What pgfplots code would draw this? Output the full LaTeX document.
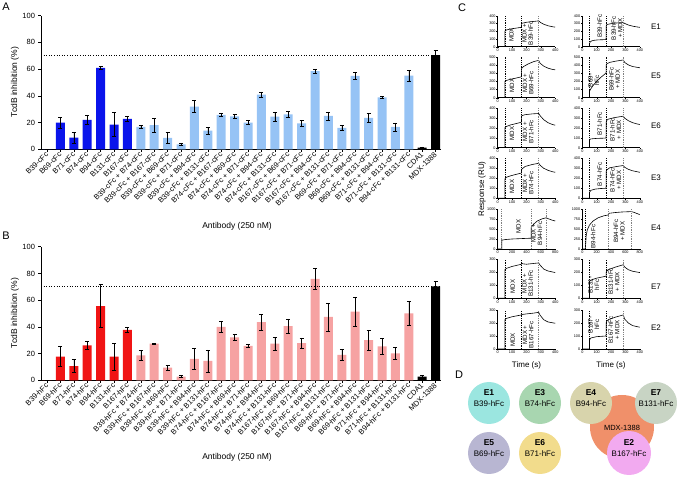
\documentclass[border=0pt]{standalone}
\usepackage{pgfplots}
\pgfplotsset{compat=1.18}
\usepackage{pgfplotstable}
\usepackage{fontspec}
\setmainfont{Liberation Sans}

\definecolor{dblue}{RGB}{10,20,235}
\definecolor{lblue}{RGB}{150,195,245}
\definecolor{dred}{RGB}{240,20,20}
\definecolor{lred}{RGB}{246,162,162}
\definecolor{cE1}{RGB}{155,230,224}
\definecolor{cE3}{RGB}{168,214,176}
\definecolor{cE4}{RGB}{216,212,172}
\definecolor{cE7}{RGB}{200,212,196}
\definecolor{cMDX}{RGB}{240,144,106}
\definecolor{cE2}{RGB}{242,170,240}
\definecolor{cE5}{RGB}{184,182,210}
\definecolor{cE6}{RGB}{242,220,140}

\pgfplotstableread{
x y e
1 0 0
2 20 4
3 8.7 4
4 22 3.5
5 61 1
6 18.5 9
7 22.7 2
}\Adark
\pgfplotstableread{
x y e
8 16.7 1
9 18 5
10 8.5 4
11 3.7 0.7
12 32 4.5
13 14 2.5
14 25.7 1
15 24.7 1.5
16 20 1.5
17 41 2
18 24.5 3.5
19 26.2 2
20 19.4 2
21 58.5 1.5
22 25 3
23 16 2
24 55 2.5
25 23.5 3.5
26 38.8 1
27 16.7 3
28 55.2 4
}\Alight
\pgfplotstableread{
x y e
29 1.3 0.5
30 70.5 3.5
}\Actrl
\pgfplotstableread{
x y e
1 0 0
2 17.7 7.5
3 10.7 5
4 26.2 3
5 55.6 16
6 17.7 10
7 37.7 2
}\Bdark
\pgfplotstableread{
x y e
8 18.7 3.7
9 27.4 0.5
10 9.5 1.7
11 2.7 0.7
12 16 8
13 14.5 8.3
14 40 4
15 32.2 2
16 25.7 1
17 43.6 6
18 27.4 5
19 40.6 5.3
20 27.8 4
21 76 8
22 47.5 10.5
23 19 4.2
24 51.4 11
25 30 7.5
26 25.4 6
27 20.2 4.3
28 50 9
}\Blight
\pgfplotstableread{
x y e
29 2.7 1
30 70.3 3.5
}\Bctrl

\pgfplotsset{
 barax/.style={scale only axis, width=400pt, height=133.6pt, xmin=0.55, xmax=30.4, ymin=0, ymax=100,
   axis x line*=bottom, axis y line*=left, tick align=outside, xtick={1,...,30}, ytick={0,20,...,100},
   major tick length=2.5pt, tick style={black, line width=0.5pt}, axis line style={line width=0.7pt},
   yticklabel style={font=\fontsize{7.5}{8}\selectfont},
   xticklabel style={font=\fontsize{7.5}{8}\selectfont, rotate=45, anchor=east, inner sep=1pt, yshift=-1pt},
   /pgf/number format/assume math mode=true, clip=false, anchor=south west},
 bars/.style={ybar, bar shift=0pt, bar width=9pt, draw=none, fill=#1,
   error bars/.cd, y dir=both, y explicit, error bar style={black, line width=0.6pt},
   error mark options={black, rotate=90, mark size=2pt, line width=0.6pt}},
 sg/.style={scale only axis, width=57.5pt, axis x line*=bottom, axis y line*=left, tick align=outside,
   major tick length=1.3pt, tick style={black,line width=0.35pt}, axis line style={line width=0.45pt},
   xmin=0, xmax=400, xtick={0,100,...,400}, ymin=0,
   ticklabel style={font=\fontsize{3.8}{4}\selectfont, inner sep=0.6pt},
   /pgf/number format/assume math mode=true, /pgf/number format/1000 sep={}, clip=false, anchor=south west},
 cv/.style={black, line width=0.6pt, sharp plot, no marks},
 dk/.style={black, line width=0.4pt, dash pattern=on 1.3pt off 1pt, no marks},
 gy/.style={gray, line width=0.5pt, dash pattern=on 1.3pt off 1pt, no marks},
}
\tikzset{lab/.style={font=\fontsize{6.2}{6.4}\selectfont, rotate=90, align=center, inner sep=0pt}}

\begin{document}
\begin{tikzpicture}
\path[use as bounding box] (0pt,0pt) rectangle (677pt,479pt);

% ---------------- Panel A
\begin{axis}[barax, at={(41pt,329.7pt)},
  xticklabels={B39-cFc, B69-cFc, B71-cFc, B74-cFc, B94-cFc, B131-cFc, B167-cFc,
  B39-cFc + B74-cFc, B39-cFc + B167-cFc, B39-cFc + B69-cFc, B39-cFc + B71-cFc, B39-cFc + B94-cFc,
  B39-cFc + B131-cFc, B74-cFc + B167-cFc, B74-cFc + B69-cFc, B74-cFc + B71-cFc, B74-cFc + B94-cFc,
  B74-cFc + B131-cFc, B167-cFc + B69-cFc, B167-cFc + B71-cFc, B167-cFc + B94-cFc, B167-cFc + B131-cFc,
  B69-cFc + B71-cFc, B69-cFc + B94-cFc, B69-cFc + B131-cFc, B71-cFc + B94-cFc, B71-cFc + B131-cFc,
  B94-cFc + B131-cFc, CDA1, MDX-1388}]
\addplot[bars=dblue] table[x=x,y=y,y error=e] {\Adark};
\addplot[bars=lblue] table[x=x,y=y,y error=e] {\Alight};
\addplot[bars=black] table[x=x,y=y,y error=e] {\Actrl};
\addplot[black, line width=0.8pt, dash pattern=on 0.8pt off 1.8pt] coordinates {(0.55,70) (30.4,70)};
\end{axis}

% ---------------- Panel B
\begin{axis}[barax, at={(41pt,98.7pt)},
  xticklabels={B39-hFc, B69-hFc, B71-hFc, B74-hFc, B94-hFc, B131-hFc, B167-hFc,
  B39-hFc + B74-hFc, B39-hFc + B167-hFc, B39-hFc + B69-hFc, B39-hFc + B71-hFc, B39-hFc + B94-hFc,
  B39-hFc + B131-hFc, B74-hFc + B167-hFc, B74-hFc + B69-hFc, B74-hFc + B71-hFc, B74-hFc + B94-hFc,
  B74-hFc + B131-hFc, B167-hFc + B69-hFc, B167-hFc + B71-hFc, B167-hFc + B94-hFc, B167-hFc + B131-hFc,
  B69-hFc + B71-hFc, B69-hFc + B94-hFc, B69-hFc + B131-hFc, B71-hFc + B94-hFc, B71-hFc + B131-hFc,
  B94-hFc + B131-hFc, CDA1, MDX-1388}]
\addplot[bars=dred] table[x=x,y=y,y error=e] {\Bdark};
\addplot[bars=lred] table[x=x,y=y,y error=e] {\Blight};
\addplot[bars=black] table[x=x,y=y,y error=e] {\Bctrl};
\addplot[black, line width=0.8pt, dash pattern=on 0.8pt off 1.8pt] coordinates {(0.55,70) (30.4,70)};
\end{axis}

% labels A/B
\node[font=\fontsize{11}{12}\selectfont] at (6pt,472pt) {A};
\node[font=\fontsize{11}{12}\selectfont] at (6pt,243pt) {B};
\node[rotate=90, font=\fontsize{8.5}{9}\selectfont] at (15pt,397pt) {TcdB inhibition (\%)};
\node[rotate=90, font=\fontsize{8.5}{9}\selectfont] at (15pt,166pt) {TcdB inhibition (\%)};
\node[font=\fontsize{8.5}{9}\selectfont] at (237pt,253pt) {Antibody (250 nM)};
\node[font=\fontsize{8.5}{9}\selectfont] at (237pt,22pt) {Antibody (250 nM)};

% ---------------- Panel C
% Row 1 E1
\begin{axis}[sg, at={(497.7pt,432.3pt)}, height=31pt, ymax=400, ytick={0,100,...,400}]
\addplot[cv] coordinates {(0,0)(50,0)(50,200)(60,215)(80,225)(110,235)(140,243)(165,250)(167,300)(175,305)(200,315)(230,322)(260,328)(285,333)(290,325)(300,310)(320,290)(350,270)(380,258)(400,252)};
\addplot[dk] coordinates {(50,0)(50,400)};
\addplot[dk] coordinates {(165,0)(165,400)};
\addplot[gy] coordinates {(285,0)(285,400)};
\node[lab] at (rel axis cs:0.24,0.38) {MDX};
\node[lab] at (rel axis cs:0.52,0.43) {MDX +\\B39-hFc};
\end{axis}
\begin{axis}[sg, at={(582.3pt,432.3pt)}, height=31pt, ymax=400, ytick={0,100,...,400}]
\addplot[cv] coordinates {(0,0)(50,0)(50,40)(55,60)(65,75)(80,82)(110,88)(140,90)(165,92)(167,280)(180,290)(210,300)(250,308)(285,312)(295,300)(320,280)(350,265)(380,255)(400,250)};
\addplot[dk] coordinates {(50,0)(50,400)};
\addplot[dk] coordinates {(165,0)(165,400)};
\addplot[gy] coordinates {(285,0)(285,400)};
\node[lab] at (rel axis cs:0.3,0.66) {B39-hFc};
\node[lab] at (rel axis cs:0.6,0.59) {B39-hFc\\+ MDX};
\end{axis}
% Row 2 E5
\begin{axis}[sg, at={(497.7pt,381.3pt)}, height=41pt, ymax=500, ytick={0,100,...,500}]
\addplot[cv] coordinates {(0,0)(50,0)(50,200)(60,210)(90,225)(130,240)(165,255)(167,360)(180,380)(210,410)(250,440)(285,455)(295,420)(320,385)(350,360)(380,345)(400,340)};
\addplot[dk] coordinates {(50,0)(50,500)};
\addplot[dk] coordinates {(165,0)(165,500)};
\addplot[gy] coordinates {(285,0)(285,500)};
\node[lab] at (rel axis cs:0.25,0.3) {MDX};
\node[lab] at (rel axis cs:0.53,0.36) {MDX +\\B69-hFc};
\end{axis}
\begin{axis}[sg, at={(582.3pt,381.3pt)}, height=41pt, ymax=500, ytick={0,100,...,500}]
\addplot[cv] coordinates {(0,0)(50,0)(50,80)(60,110)(80,160)(100,200)(130,250)(165,300)(167,410)(190,430)(230,445)(285,460)(295,430)(320,400)(350,380)(400,365)};
\addplot[dk] coordinates {(50,0)(50,500)};
\addplot[dk] coordinates {(165,0)(165,500)};
\addplot[gy] coordinates {(285,0)(285,500)};
\node[lab] at (rel axis cs:0.2,0.42) {B69-\\hFc};
\node[lab] at (rel axis cs:0.56,0.45) {B69-hFc\\+ MDX};
\end{axis}
% Row 3 E6
\begin{axis}[sg, at={(497.7pt,331.3pt)}, height=40pt, ymax=400, ytick={0,100,...,400}]
\addplot[cv] coordinates {(0,0)(50,0)(50,200)(60,212)(90,228)(130,242)(165,255)(167,320)(190,330)(240,338)(285,342)(295,320)(320,280)(350,250)(380,232)(400,225)};
\addplot[dk] coordinates {(50,0)(50,400)};
\addplot[dk] coordinates {(165,0)(165,400)};
\addplot[gy] coordinates {(285,0)(285,400)};
\node[lab] at (rel axis cs:0.25,0.35) {MDX};
\node[lab] at (rel axis cs:0.53,0.4) {MDX +\\B71-hFc};
\end{axis}
\begin{axis}[sg, at={(582.3pt,331.3pt)}, height=40pt, ymax=400, ytick={0,100,...,400}]
\addplot[cv] coordinates {(0,0)(50,0)(50,80)(60,88)(100,93)(165,96)(167,270)(180,285)(220,300)(285,315)(295,295)(320,270)(350,250)(380,238)(400,232)};
\addplot[dk] coordinates {(50,0)(50,400)};
\addplot[dk] coordinates {(165,0)(165,400)};
\addplot[gy] coordinates {(285,0)(285,400)};
\node[lab] at (rel axis cs:0.3,0.6) {B71-hFc};
\node[lab] at (rel axis cs:0.58,0.45) {B71-hFc\\+ MDX};
\end{axis}
% Row 4 E3
\begin{axis}[sg, at={(497.7pt,280.7pt)}, height=40pt, ymax=400, ytick={0,100,...,400}]
\addplot[cv] coordinates {(0,0)(50,0)(50,195)(60,210)(90,225)(130,240)(165,252)(167,290)(190,318)(240,338)(285,350)(295,330)(320,300)(350,280)(380,266)(400,260)};
\addplot[dk] coordinates {(50,0)(50,400)};
\addplot[dk] coordinates {(165,0)(165,400)};
\addplot[gy] coordinates {(285,0)(285,400)};
\node[lab] at (rel axis cs:0.25,0.3) {MDX};
\node[lab] at (rel axis cs:0.53,0.38) {MDX +\\B74-hFc};
\end{axis}
\begin{axis}[sg, at={(582.3pt,280.7pt)}, height=40pt, ymax=400, ytick={0,100,...,400}]
\addplot[cv] coordinates {(0,0)(50,0)(50,60)(60,80)(90,92)(130,98)(165,100)(167,280)(190,305)(240,318)(285,328)(295,310)(320,290)(350,275)(400,260)};
\addplot[dk] coordinates {(50,0)(50,400)};
\addplot[dk] coordinates {(165,0)(165,400)};
\addplot[gy] coordinates {(285,0)(285,400)};
\node[lab] at (rel axis cs:0.3,0.6) {B74-hFc};
\node[lab] at (rel axis cs:0.58,0.45) {B74-hFc\\+ MDX};
\end{axis}
% Row 5 E4
\begin{axis}[sg, at={(497.7pt,230pt)}, height=40pt, xmax=800, xtick={0,200,...,800}, ymax=1000, ytick={0,250,...,1000}]
\addplot[cv] coordinates {(0,0)(56,0)(56,220)(100,235)(200,250)(350,262)(465,270)(467,540)(500,620)(550,700)(620,755)(674,780)(700,760)(750,725)(800,700)};
\addplot[gy] coordinates {(56,0)(56,1000)};
\addplot[gy] coordinates {(465,0)(465,1000)};
\addplot[gy] coordinates {(674,0)(674,1000)};
\node[lab] at (rel axis cs:0.36,0.56) {MDX};
\node[lab] at (rel axis cs:0.68,0.39) {MDX +\\B94-hFc};
\end{axis}
\begin{axis}[sg, at={(582.3pt,230pt)}, height=40pt, xmax=800, xtick={0,200,...,800}, ymax=1000, ytick={0,250,...,1000}]
\addplot[cv] coordinates {(0,0)(46,0)(46,100)(55,350)(70,480)(100,600)(150,700)(220,780)(300,830)(361,850)(363,890)(450,910)(550,925)(684,935)(720,915)(800,860)};
\addplot[dk] coordinates {(46,0)(46,1000)};
\addplot[gy] coordinates {(361,0)(361,1000)};
\addplot[gy] coordinates {(684,0)(684,1000)};
\node[lab] at (rel axis cs:0.19,0.31) {B94-hFc};
\node[lab] at (rel axis cs:0.64,0.45) {B94-hFc\\+ MDX};
\end{axis}
% Row 6 E7
\begin{axis}[sg, at={(497.7pt,180.7pt)}, height=39pt, ymax=300, ytick={0,100,...,300}]
\addplot[cv] coordinates {(0,0)(50,0)(50,220)(60,230)(100,245)(165,262)(167,270)(175,265)(200,262)(250,268)(285,272)(295,255)(320,225)(350,210)(400,198)};
\addplot[dk] coordinates {(50,0)(50,300)};
\addplot[dk] coordinates {(165,0)(165,300)};
\addplot[gy] coordinates {(285,0)(285,300)};
\node[lab] at (rel axis cs:0.26,0.3) {MDX};
\node[lab] at (rel axis cs:0.52,0.38) {MDX +\\B131-hFc};
\end{axis}
\begin{axis}[sg, at={(582.3pt,180.7pt)}, height=39pt, ymax=300, ytick={0,100,...,300}]
\addplot[cv] coordinates {(0,0)(50,0)(50,130)(60,140)(100,155)(165,170)(167,205)(180,220)(230,240)(285,258)(295,240)(320,220)(350,208)(400,198)};
\addplot[dk] coordinates {(50,0)(50,300)};
\addplot[dk] coordinates {(165,0)(165,300)};
\addplot[gy] coordinates {(285,0)(285,300)};
\node[lab] at (rel axis cs:0.2,0.34) {B131-\\hFc};
\node[lab] at (rel axis cs:0.55,0.43) {B131-hFc\\+ MDX};
\end{axis}
% Row 7 E2
\begin{axis}[sg, at={(497.7pt,130pt)}, height=39pt, ymax=300, ytick={0,100,...,300}]
\addplot[cv] coordinates {(0,0)(50,0)(50,225)(60,235)(100,248)(165,262)(167,265)(200,270)(250,276)(285,282)(295,260)(320,225)(350,208)(400,198)};
\addplot[dk] coordinates {(50,0)(50,300)};
\addplot[dk] coordinates {(165,0)(165,300)};
\addplot[gy] coordinates {(285,0)(285,300)};
\node[lab] at (rel axis cs:0.26,0.23) {MDX};
\node[lab] at (rel axis cs:0.53,0.36) {MDX +\\B167-hFc};
\end{axis}
\begin{axis}[sg, at={(582.3pt,130pt)}, height=39pt, ymax=300, ytick={0,100,...,300}]
\addplot[cv] coordinates {(0,0)(50,0)(50,70)(60,85)(100,95)(165,100)(167,210)(180,225)(230,245)(285,262)(295,230)(320,200)(350,180)(380,172)(400,168)};
\addplot[dk] coordinates {(50,0)(50,300)};
\addplot[dk] coordinates {(165,0)(165,300)};
\addplot[gy] coordinates {(285,0)(285,300)};
\node[lab] at (rel axis cs:0.2,0.62) {B167-\\hFc};
\node[lab] at (rel axis cs:0.55,0.49) {B167-hFc\\+ MDX};
\end{axis}

\node[font=\fontsize{11}{12}\selectfont] at (462pt,471pt) {C};
\node[rotate=90, font=\fontsize{8}{9}\selectfont] at (482pt,290pt) {Response (RU)};
\node[font=\fontsize{8}{9}\selectfont] at (526.5pt,114pt) {Time (s)};
\node[font=\fontsize{8}{9}\selectfont] at (611pt,114pt) {Time (s)};
\foreach \lab/\yy in {E1/452.3, E5/403, E6/353, E3/301.3, E4/251.3, E7/192.3, E2/151.3}
  \node[font=\fontsize{8}{9}\selectfont] at (656pt,\yy pt) {\lab};

% ---------------- Panel D
\node[font=\fontsize{11}{12}\selectfont] at (459pt,104pt) {D};
\fill[cMDX] (622pt,52pt) circle (32pt);
\fill[cE1] (489pt,76pt) circle (21pt);
\fill[cE3] (540pt,76pt) circle (21pt);
\fill[cE4] (591pt,76pt) circle (21pt);
\fill[cE7] (656pt,76pt) circle (21pt);
\fill[cE5] (489pt,26pt) circle (21pt);
\fill[cE6] (540pt,26pt) circle (21pt);
\fill[cE2] (629pt,26pt) circle (22pt);
\foreach \xx/\yy/\e/\b in {489/76/E1/B39-hFc, 540/76/E3/B74-hFc, 591/76/E4/B94-hFc, 656/76/E7/B131-hFc, 489/26/E5/B69-hFc, 540/26/E6/B71-hFc, 629/26/E2/B167-hFc}{
  \node[font=\bfseries\fontsize{8.5}{9}\selectfont] at (\xx pt,\yy pt+10pt) {\e};
  \node[font=\fontsize{8}{9}\selectfont] at (\xx pt,\yy pt-1pt) {\b};
}
\node[font=\fontsize{7.5}{9}\selectfont] at (622pt,51pt) {MDX-1388};
\end{tikzpicture}
\end{document}
